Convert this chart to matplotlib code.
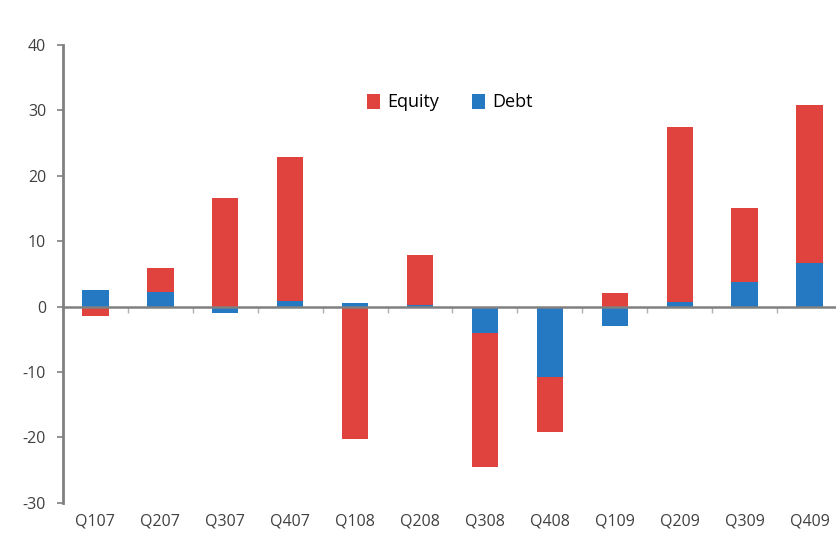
import matplotlib
matplotlib.use("Agg")
import matplotlib.pyplot as plt
import numpy as np

quarters = ["Q107", "Q207", "Q307", "Q407", "Q108", "Q208",
            "Q308", "Q408", "Q109", "Q209", "Q309", "Q409"]
debt = [2.5, 2.2, -1.0, 0.8, 0.5, 0.3, -4.0, -10.8, -2.9, 0.7, 3.7, 6.6]
equity = [-1.5, 3.7, 16.6, 22.1, -20.3, 7.6, -20.5, -8.4, 2.1, 26.8, 11.4, 24.2]

plt.rcParams['font.family'] = ['Open Sans', 'DejaVu Sans']
plt.rcParams['axes.unicode_minus'] = False

red = "#e0423e"
blue = "#2479c2"
grey = "#808080"

fig = plt.figure(figsize=(8.37, 5.43), dpi=100)
ax = fig.add_axes([0.075, 0.074, 0.925, 0.843])

x = np.arange(len(quarters))
debt = np.array(debt)
equity = np.array(equity)
# stack equity on debt only when both go the same way
bottom = np.where(np.sign(debt) == np.sign(equity), debt, 0)

ax.bar(x, debt, width=0.41, color=blue, label="Debt", zorder=2)
ax.bar(x, equity, width=0.41, bottom=bottom, color=red, label="Equity", zorder=2)

ax.set_xlim(-0.5, 11.42)
ax.set_ylim(-30, 40)
ax.set_yticks(range(-30, 41, 10))

for s in ["top", "right"]:
    ax.spines[s].set_visible(False)
ax.spines["left"].set_color(grey)
ax.spines["left"].set_linewidth(2)
ax.spines["bottom"].set_position(("data", 0))
ax.spines["bottom"].set_color(grey)
ax.spines["bottom"].set_linewidth(1.8)
ax.spines["bottom"].set_zorder(3)

ax.set_xticks(x)
ax.set_xticklabels([])
ax.tick_params(axis="x", which="major", length=0)
ax.set_xticks(np.arange(0.5, 11.5, 1), minor=True)
ax.tick_params(axis="x", which="minor", length=4, width=1, color="#b0b0b0")
ax.tick_params(axis="y", length=4, width=1.2, color=grey, labelsize=11.5,
               labelcolor="#404040", pad=8)

sec = ax.secondary_xaxis("bottom")
sec.set_xticks(x)
sec.set_xticklabels(quarters)
sec.spines["bottom"].set_visible(False)
sec.tick_params(length=0, labelsize=11.5, labelcolor="#404040", pad=8)

handles, labels = ax.get_legend_handles_labels()
ax.legend(handles[::-1], labels[::-1], loc="center", bbox_to_anchor=(0.5, 0.875),
          ncol=2, frameon=False, fontsize=13, handlelength=0.75, handleheight=0.9,
          handletextpad=0.4, columnspacing=1.8)

fig.savefig("out.png", dpi=100)
